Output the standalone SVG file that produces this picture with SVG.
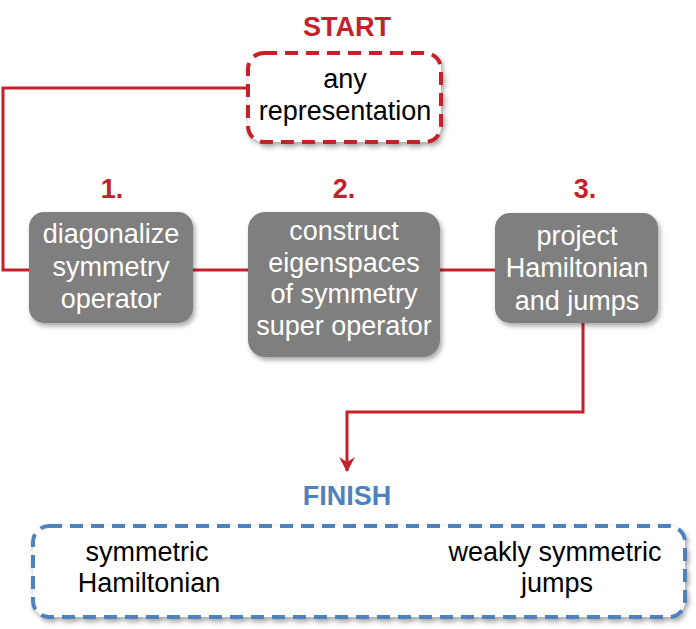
<svg xmlns="http://www.w3.org/2000/svg" width="696" height="629" viewBox="0 0 696 629">
<defs>
<filter id="sh" x="-10%" y="-10%" width="125%" height="130%">
<feDropShadow dx="2" dy="3" stdDeviation="2.5" flood-color="#000" flood-opacity="0.35"/>
</filter>
<marker id="arr" markerWidth="18" markerHeight="18" refX="16" refY="9" orient="auto" markerUnits="userSpaceOnUse" viewBox="0 0 18 18">
<path d="M2,1 L7,9 L2,17 L17,9 Z" fill="#C4212B"/>
</marker>
</defs>
<style>
text{font-family:"Liberation Sans",Arial,sans-serif;text-anchor:middle}
.t{font-size:27px;fill:#000}
.w{font-size:27px;fill:#fff}
.hr{font-size:27px;font-weight:bold;fill:#C4212B}
.hb{font-size:27px;font-weight:bold;fill:#4F81BD}
.box{fill:#7F7F7F;filter:url(#sh)}
.conn{fill:none;stroke:#C4212B;stroke-width:3}
</style>
<g id="connectors">
<path class="conn" d="M248,88 H3 V270 H29"/>
<path class="conn" d="M193,270 H248"/>
<path class="conn" d="M440,270 H495"/>
<path class="conn" d="M583,323 V412 H347 V471" marker-end="url(#arr)"/>
</g>
<g id="start">
<text class="hr" x="347" y="36">START</text>
<rect x="248" y="53" width="193" height="89" rx="16" fill="#fff" stroke="#C4212B" stroke-width="4" stroke-dasharray="13,8" filter="url(#sh)"/>
<text class="t" x="345" y="88">any</text>
<text class="t" x="345" y="120">representation</text>
</g>
<g id="step1">
<text class="hr" x="112" y="198">1.</text>
<rect class="box" x="29" y="212" width="164" height="111" rx="15"/>
<text class="w" x="111" y="243">diagonalize</text>
<text class="w" x="111" y="276">symmetry</text>
<text class="w" x="111" y="308">operator</text>
</g>
<g id="step2">
<text class="hr" x="344" y="198">2.</text>
<rect class="box" x="248" y="212" width="192" height="145" rx="17"/>
<text class="w" x="344" y="240">construct</text>
<text class="w" x="344" y="272">eigenspaces</text>
<text class="w" x="344" y="303">of symmetry</text>
<text class="w" x="344" y="335">super operator</text>
</g>
<g id="step3">
<text class="hr" x="585" y="198">3.</text>
<rect class="box" x="495" y="213" width="163" height="110" rx="15"/>
<text class="w" x="577" y="245">project</text>
<text class="w" x="577" y="277">Hamiltonian</text>
<text class="w" x="577" y="310">and jumps</text>
</g>
<g id="finish">
<text class="hb" x="347" y="505">FINISH</text>
<rect x="33" y="526" width="652" height="91" rx="16" fill="#fff" stroke="#4F81BD" stroke-width="4" stroke-dasharray="13,8" filter="url(#sh)"/>
<text class="t" x="147" y="561">symmetric</text>
<text class="t" x="149" y="592">Hamiltonian</text>
<text class="t" x="555" y="561">weakly symmetric</text>
<text class="t" x="557" y="592">jumps</text>
</g>
</svg>
